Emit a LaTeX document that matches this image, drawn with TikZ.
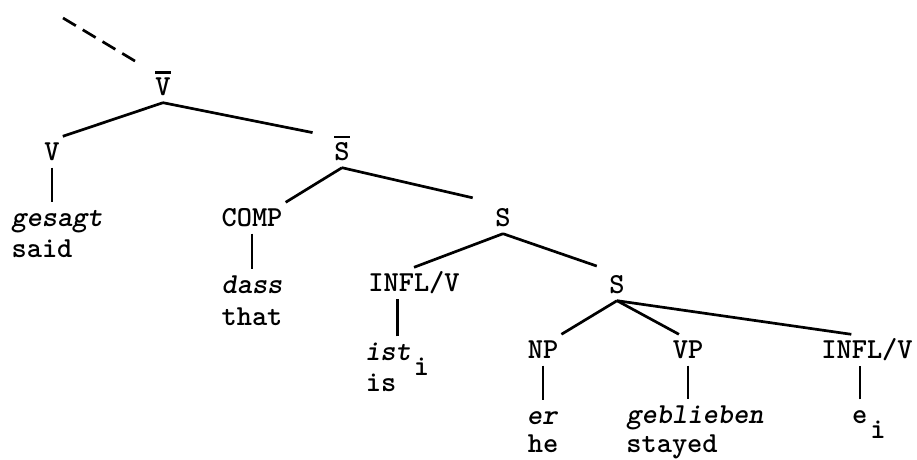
\documentclass[tikz,border=0pt]{standalone}
\usepackage{fontspec}
\tikzset{
  lab/.style={font=\fontsize{29}{34}\selectfont\ttfamily\bfseries, inner xsep=3pt, inner ysep=7pt, text height=17pt, text depth=0pt},
  gloss/.style={lab, font=\fontsize{29}{34}\selectfont\ttfamily\bfseries\itshape},
  seg/.style={line width=0.095cm},
  dashseg/.style={seg, dash pattern=on 15pt off 8pt},
}
\newcommand{\barlabel}[1]{\vbox{\hrule height 2.6pt\kern4pt\hbox{#1}}}
\newcommand{\lowi}{\kern3pt\raisebox{-15pt}{\upshape\bfseries i}}
\begin{document}
\begin{tikzpicture}[x=1pt,y=-1pt]
                    \useasboundingbox (0,0) rectangle (917,459);

                    % Marking node V-bar
                    \node [lab] (vbar) at (163,87) {\barlabel{V}};%

                    % Marking node V
                    \node [lab] (v) at (52,152) {V};%
                    \node [gloss] (gesagt) at (57,218) {gesagt};%
                    \node [lab] (said) at (42,249) {said};%

                    % Marking node S-bar
                    \node [lab] (sbar) at (342,152) {\barlabel{S}};%

                    % Marking node COMP
                    \node [lab] (comp) at (252,218) {COMP};%
                    \node [gloss] (dass) at (252,285) {dass};%
                    \node [lab] (that) at (252,317) {that};%

                    % Marking node S (upper)
                    \node [lab] (s1) at (503,218) {S};%

                    % Marking node INFL/V (left)
                    \node [lab] (infl1) at (414,283) {INFL/V};%
                    \node [gloss, anchor=west] (ist) at (362,352) {ist\lowi};%
                    \node [lab] (is) at (381,383) {is};%

                    % Marking node S (lower)
                    \node [lab] (s2) at (617,285) {S};%

                    % Marking node NP
                    \node [lab] (np) at (543,350) {NP};%
                    \node [gloss] (er) at (542,416) {er};%
                    \node [lab] (he) at (543,444) {he};%

                    % Marking node VP
                    \node [lab] (vp) at (688,350) {VP};%
                    \node [gloss] (gebl) at (695,415) {geblieben};%
                    \node [lab] (stayed) at (672,444) {stayed};%

                    % Marking node INFL/V (right)
                    \node [lab] (infl2) at (867,350) {INFL/V};%
                    \node [lab, anchor=west] (ei) at (849,415) {e\lowi};%

                    % Drawing dashed segment above V-bar
                    \coordinate (up) at (63,18);%
                    \draw [dashseg, shorten >=20pt] (up) -- (vbar.north west);%

                    % Drawing segments V-bar V, V-bar S-bar
                    \draw [seg] (vbar.south) -- (v.north east);%
                    \draw [seg, shorten >=19pt] (vbar.south) -- (sbar.north west);%
                    \draw [seg] (v.south) -- (v.south |- gesagt.north);%

                    % Drawing segments S-bar COMP, S-bar S
                    \draw [seg] (sbar.south) -- (comp.north east);%
                    \draw [seg, shorten >=20pt] (sbar.south) -- (s1.north west);%
                    \draw [seg] (comp.south) -- (dass.north);%

                    % Drawing segments S INFL/V, S S
                    \draw [seg] (s1.south) -- (infl1.north);%
                    \draw [seg, shorten >=10pt] (s1.south) -- (s2.north west);%
                    \draw [seg] (ist.north) -- (ist.north |- infl1.south);%

                    % Drawing segments S NP, S VP, S INFL/V
                    \draw [seg] (s2.south) -- (np.north east);%
                    \draw [seg] (s2.south) -- (vp.120);%
                    \draw [seg] (s2.south) -- (infl2.135);%
                    \draw [seg] (np.south) -- (np.south |- er.north);%
                    \draw [seg] (vp.south) -- (vp.south |- gebl.north);%
                    \draw [seg] (ei.120) -- (ei.120 |- infl2.south);%
\end{tikzpicture}
\end{document}
